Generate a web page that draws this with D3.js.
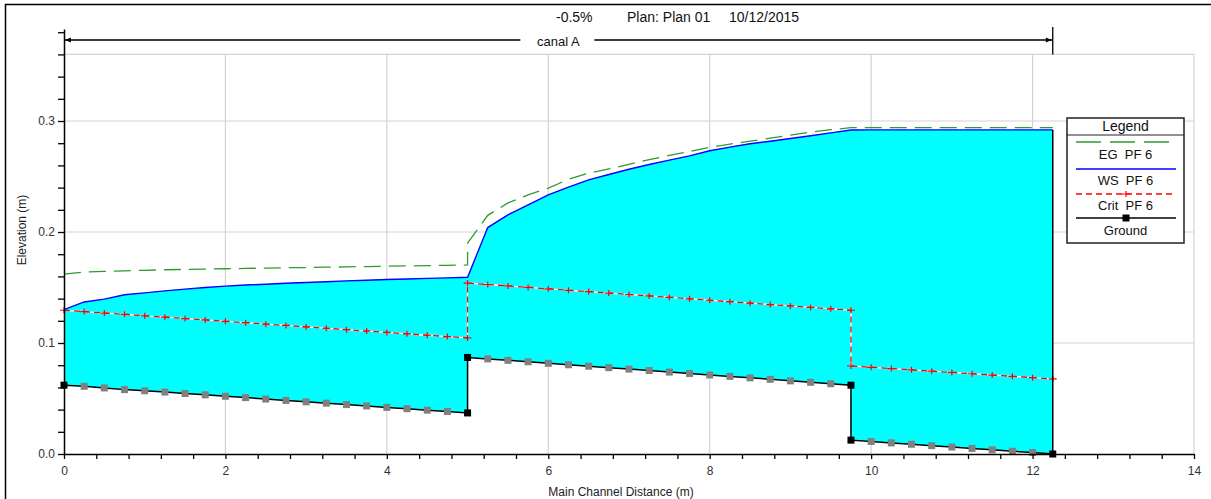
<!DOCTYPE html>
<html>
<head>
<meta charset="utf-8">
<script src="https://cdn.jsdelivr.net/npm/d3@7/dist/d3.min.js"></script>
<style>
  html, body { margin: 0; padding: 0; background: #fff; }
  svg { display: block; font-family: "Liberation Sans", Arial, sans-serif; }
  text { white-space: pre; }
</style>
</head>
<body>
<svg id="chart" width="1211" height="499"></svg>
<script>
// River stations along the reach (m); repeated stations mark drops in the bed
const stations = [
  0, 0.25, 0.5, 0.75, 1, 1.25, 1.5, 1.75, 2, 2.25, 2.5, 2.75, 3, 3.25, 3.5, 3.75, 4, 4.25, 4.5, 4.75, 5,
  5, 5.25, 5.5, 5.75, 6, 6.25, 6.5, 6.75, 7, 7.25, 7.5, 7.75, 8, 8.25, 8.5, 8.75, 9, 9.25, 9.5, 9.75,
  9.75, 10, 10.25, 10.5, 10.75, 11, 11.25, 11.5, 11.75, 12, 12.25
];
// Channel bed elevation (m)
const ground = [
  0.062, 0.061, 0.0595, 0.058, 0.057, 0.0558, 0.0545, 0.0533, 0.052, 0.0508, 0.0495, 0.0483, 0.047, 0.0458, 0.0445, 0.0433, 0.042, 0.0408, 0.0395, 0.0383, 0.037,
  0.087, 0.0857, 0.0844, 0.0831, 0.0817, 0.0804, 0.0791, 0.0778, 0.0765, 0.0752, 0.0738, 0.0725, 0.0712, 0.0699, 0.0686, 0.0673, 0.0659, 0.0646, 0.0633, 0.062,
  0.0125, 0.0113, 0.01, 0.0088, 0.0075, 0.0063, 0.005, 0.0038, 0.0025, 0.0013, 0
];
// Water surface, PF 6 (m)
const wsPF6 = [
  0.130, 0.137, 0.1395, 0.1435, 0.1452, 0.147, 0.1485, 0.150, 0.1512, 0.1522, 0.153, 0.1538, 0.1545, 0.1552, 0.156, 0.1566, 0.1572, 0.1577, 0.1582, 0.1587, 0.1592,
  0.1592, 0.204, 0.2155, 0.2245, 0.2335, 0.2405, 0.247, 0.2518, 0.2565, 0.2608, 0.2648, 0.2686, 0.2732, 0.2765, 0.2795, 0.2818, 0.2843, 0.2867, 0.2893, 0.2919,
  0.2919, 0.292, 0.292, 0.292, 0.292, 0.292, 0.292, 0.292, 0.292, 0.292, 0.292
];
// Energy grade line, PF 6 (m)
const egPF6 = [
  0.162, 0.164, 0.1645, 0.165, 0.1655, 0.166, 0.1663, 0.1666, 0.1669, 0.1672, 0.1675, 0.1678, 0.168, 0.1683, 0.1686, 0.1689, 0.1692, 0.1695, 0.1697, 0.170, 0.1703,
  0.190, 0.215, 0.2262, 0.2335, 0.2395, 0.2475, 0.253, 0.2568, 0.261, 0.2652, 0.269, 0.2726, 0.2763, 0.2792, 0.2818, 0.2845, 0.2872, 0.290, 0.2922, 0.294,
  0.294, 0.294, 0.294, 0.294, 0.294, 0.294, 0.294, 0.294, 0.294, 0.294, 0.294
];
// Critical depth elevation, PF 6 (m)
const critPF6 = [
  0.1295, 0.1283, 0.127, 0.1258, 0.1245, 0.1233, 0.122, 0.1208, 0.1195, 0.1183, 0.117, 0.1158, 0.1145, 0.1133, 0.112, 0.1108, 0.1095, 0.1083, 0.107, 0.1058, 0.1045,
  0.154, 0.1527, 0.1514, 0.1501, 0.1488, 0.1475, 0.1463, 0.145, 0.1437, 0.1424, 0.1411, 0.1398, 0.1385, 0.1372, 0.1359, 0.1346, 0.1334, 0.1321, 0.1308, 0.1295,
  0.0793, 0.0781, 0.077, 0.0758, 0.0746, 0.0735, 0.0723, 0.0711, 0.07, 0.0688, 0.0676
];
// Surveyed sections (the rest are interpolated)
const surveyed = [0, 5, 9.75, 12.25];
const reachName = "canal A";
const reachStart = 0, reachEnd = 12.25;

const xTickLabels = [0, 2, 4, 6, 8, 10, 12, 14];
const yTickLabels = ["0.0", "0.1", "0.2", "0.3"];
const titleParts = ["-0.5%", "Plan: Plan 01", "10/12/2015"];
const legendLabels = ["EG  PF 6", "WS  PF 6", "Crit  PF 6", "Ground"];

const colors = { eg: "#2f9a2f", ws: "#0000ff", crit: "#ff0000", ground: "#000000", fill: "#00ffff", grid: "#d4d4d4" };

const rows = stations.map((s, i) => ({ s, g: ground[i], w: wsPF6[i], e: egPF6[i], c: critPF6[i] }));

const svg = d3.select("#chart");
const x = d3.scaleLinear().domain([0, 14]).range([64, 1194]);
const y = d3.scaleLinear().domain([0, 0.3829]).range([454, 29]);
const gridTop = y(0.36);

// outer frame
svg.append("rect").attr("x", 5.5).attr("y", 4.5).attr("width", 1300).attr("height", 600)
  .attr("fill", "none").attr("stroke", "#000").attr("stroke-width", 1.5);

// grid
const grid = svg.append("g").attr("stroke", colors.grid).attr("stroke-width", 1.2);
xTickLabels.filter(v => v > 0).forEach(v => {
  grid.append("line").attr("x1", x(v)).attr("x2", x(v)).attr("y1", gridTop).attr("y2", y(0));
});
[0.1, 0.2, 0.3, 0.36].forEach(v => {
  grid.append("line").attr("x1", x(0)).attr("x2", x(14)).attr("y1", y(v)).attr("y2", y(v));
});

// water body
svg.append("path").datum(rows)
  .attr("fill", colors.fill)
  .attr("d", d3.area().x(d => x(d.s)).y0(d => y(d.g)).y1(d => y(d.w)));

// critical depth: red dashes on a white line
const critLine = d3.line().x(d => x(d.s)).y(d => y(d.c));
svg.append("path").datum(rows).attr("fill", "none").attr("stroke", "#fff").attr("stroke-width", 1.3).attr("d", critLine);
svg.append("path").datum(rows).attr("fill", "none").attr("stroke", colors.crit).attr("stroke-width", 1.3)
  .attr("stroke-dasharray", "6,4").attr("d", critLine);
svg.append("g").selectAll("path").data(rows).join("path")
  .attr("d", d => `M${x(d.s) - 4},${y(d.c)}H${x(d.s) + 4}M${x(d.s)},${y(d.c) - 3}V${y(d.c) + 3}`)
  .attr("stroke", colors.crit).attr("stroke-width", 1.2).attr("fill", "none");

// energy grade line
svg.append("path").datum(rows).attr("fill", "none").attr("stroke", colors.eg).attr("stroke-width", 1.3)
  .attr("stroke-dasharray", "17,8")
  .attr("d", d3.line().x(d => x(d.s)).y(d => y(d.e)));

// water surface
svg.append("path").datum(rows).attr("fill", "none").attr("stroke", colors.ws).attr("stroke-width", 1.4)
  .attr("d", d3.line().x(d => x(d.s)).y(d => y(d.w)));

// downstream boundary of the water body
const last = rows[rows.length - 1];
svg.append("line").attr("x1", x(last.s)).attr("x2", x(last.s)).attr("y1", y(last.w)).attr("y2", y(last.g))
  .attr("stroke", "#000").attr("stroke-width", 1.5);

// ground profile
svg.append("path").datum(rows).attr("fill", "none").attr("stroke", colors.ground).attr("stroke-width", 1.5)
  .attr("d", d3.line().x(d => x(d.s)).y(d => y(d.g)));
svg.append("g").selectAll("rect").data(rows).join("rect")
  .attr("x", d => x(d.s) - 3.5).attr("y", d => y(d.g) - 3.5).attr("width", 7).attr("height", 7)
  .attr("fill", d => surveyed.includes(d.s) ? "#000" : "#808080");

// axes
const isMajor = (v, step) => Math.abs(v / step - Math.round(v / step)) < 1e-6;
const xMinor = d3.range(0, 14.0001, 0.4);
const yMinor = d3.range(0, 0.3801, 0.02);

const xAxis = d3.axisBottom(x).tickValues(xMinor).tickSize(5).tickSizeOuter(0)
  .tickFormat(v => isMajor(v, 2) ? String(xTickLabels[Math.round(v / 2)]) : "");
const gx = svg.append("g").attr("transform", `translate(0,${y(0)})`).call(xAxis);
gx.select(".domain").attr("stroke", "#000").attr("stroke-width", 1.5);
gx.selectAll(".tick line").attr("stroke", "#000").attr("stroke-width", 1.3);
gx.selectAll(".tick text").attr("font-size", 12).attr("fill", "#333").attr("dy", "1.1em");

const yAxis = d3.axisLeft(y).tickValues(yMinor).tickSize(6).tickSizeOuter(0)
  .tickFormat(v => isMajor(v, 0.1) ? yTickLabels[Math.round(v / 0.1)] : "");
const gy = svg.append("g").attr("transform", `translate(${x(0)},0)`).call(yAxis);
gy.select(".domain").attr("stroke", "#000").attr("stroke-width", 1.5);
gy.selectAll(".tick line").attr("stroke", "#000").attr("stroke-width", 1.3);
gy.selectAll(".tick text").attr("font-size", 12).attr("fill", "#333").attr("x", -9);

// axis titles
svg.append("text").attr("x", 621).attr("y", 496).attr("text-anchor", "middle")
  .attr("font-size", 12).attr("fill", "#222").text("Main Channel Distance (m)");
svg.append("text").attr("transform", "translate(26,230) rotate(-90)").attr("text-anchor", "middle")
  .attr("font-size", 12).attr("fill", "#222").text("Elevation (m)");

// plot title
const titleX = [556, 627, 729];
titleParts.forEach((t, i) => {
  svg.append("text").attr("x", titleX[i]).attr("y", 22).attr("font-size", 14).attr("fill", "#111").text(t);
});

// reach extent annotation
const ry = 40, rx0 = x(reachStart), rx1 = x(reachEnd), rxm = (rx0 + rx1) / 2;
const reach = svg.append("g").attr("stroke", "#000").attr("stroke-width", 1.3);
reach.append("line").attr("x1", rx0).attr("x2", rxm - 38).attr("y1", ry).attr("y2", ry);
reach.append("line").attr("x1", rxm + 36).attr("x2", rx1).attr("y1", ry).attr("y2", ry);
reach.append("line").attr("x1", rx1).attr("x2", rx1).attr("y1", 27).attr("y2", gridTop);
svg.append("path").attr("d", `M${rx0 + 1},${ry}L${rx0 + 7},${ry - 2.5}L${rx0 + 7},${ry + 2.5}Z`).attr("fill", "#000");
svg.append("path").attr("d", `M${rx1 - 1},${ry}L${rx1 - 7},${ry - 2.5}L${rx1 - 7},${ry + 2.5}Z`).attr("fill", "#000");
svg.append("text").attr("x", rxm).attr("y", 46).attr("text-anchor", "middle").attr("font-size", 13)
  .attr("fill", "#111").text(reachName);

// legend
const lg = svg.append("g");
const L = { x: 1067, y: 118, w: 117, h: 125 };
lg.append("rect").attr("x", L.x).attr("y", L.y).attr("width", L.w).attr("height", L.h)
  .attr("fill", "#fff").attr("stroke", "#222").attr("stroke-width", 1.5);
lg.append("line").attr("x1", L.x).attr("x2", L.x + L.w).attr("y1", L.y + 17).attr("y2", L.y + 17)
  .attr("stroke", "#222").attr("stroke-width", 1.2);
lg.append("text").attr("x", L.x + L.w / 2).attr("y", L.y + 13).attr("text-anchor", "middle")
  .attr("font-size", 14).attr("fill", "#111").text("Legend");
const lx0 = 1076, lx1 = 1176, lxm = (lx0 + lx1) / 2;
const sampleY = [142, 169, 194, 218];
const labelY = [159, 185, 210, 235];
lg.append("line").attr("x1", lx0).attr("x2", lx1).attr("y1", sampleY[0]).attr("y2", sampleY[0])
  .attr("stroke", colors.eg).attr("stroke-width", 1.5).attr("stroke-dasharray", "25,9");
lg.append("line").attr("x1", lx0).attr("x2", lx1).attr("y1", sampleY[1]).attr("y2", sampleY[1])
  .attr("stroke", colors.ws).attr("stroke-width", 1.5);
lg.append("line").attr("x1", lx0).attr("x2", lx1).attr("y1", sampleY[2]).attr("y2", sampleY[2])
  .attr("stroke", colors.crit).attr("stroke-width", 1.3).attr("stroke-dasharray", "6,4");
lg.append("path").attr("d", `M${lxm - 4},${sampleY[2]}H${lxm + 4}M${lxm},${sampleY[2] - 3}V${sampleY[2] + 3}`)
  .attr("stroke", colors.crit).attr("stroke-width", 1.2);
lg.append("line").attr("x1", lx0).attr("x2", lx1).attr("y1", sampleY[3]).attr("y2", sampleY[3])
  .attr("stroke", colors.ground).attr("stroke-width", 1.5);
lg.append("rect").attr("x", lxm - 3.5).attr("y", sampleY[3] - 3.5).attr("width", 7).attr("height", 7).attr("fill", "#000");
legendLabels.forEach((t, i) => {
  lg.append("text").attr("x", L.x + L.w / 2).attr("y", labelY[i]).attr("text-anchor", "middle")
    .attr("font-size", 13).attr("fill", "#111").text(t);
});
</script>
</body>
</html>
